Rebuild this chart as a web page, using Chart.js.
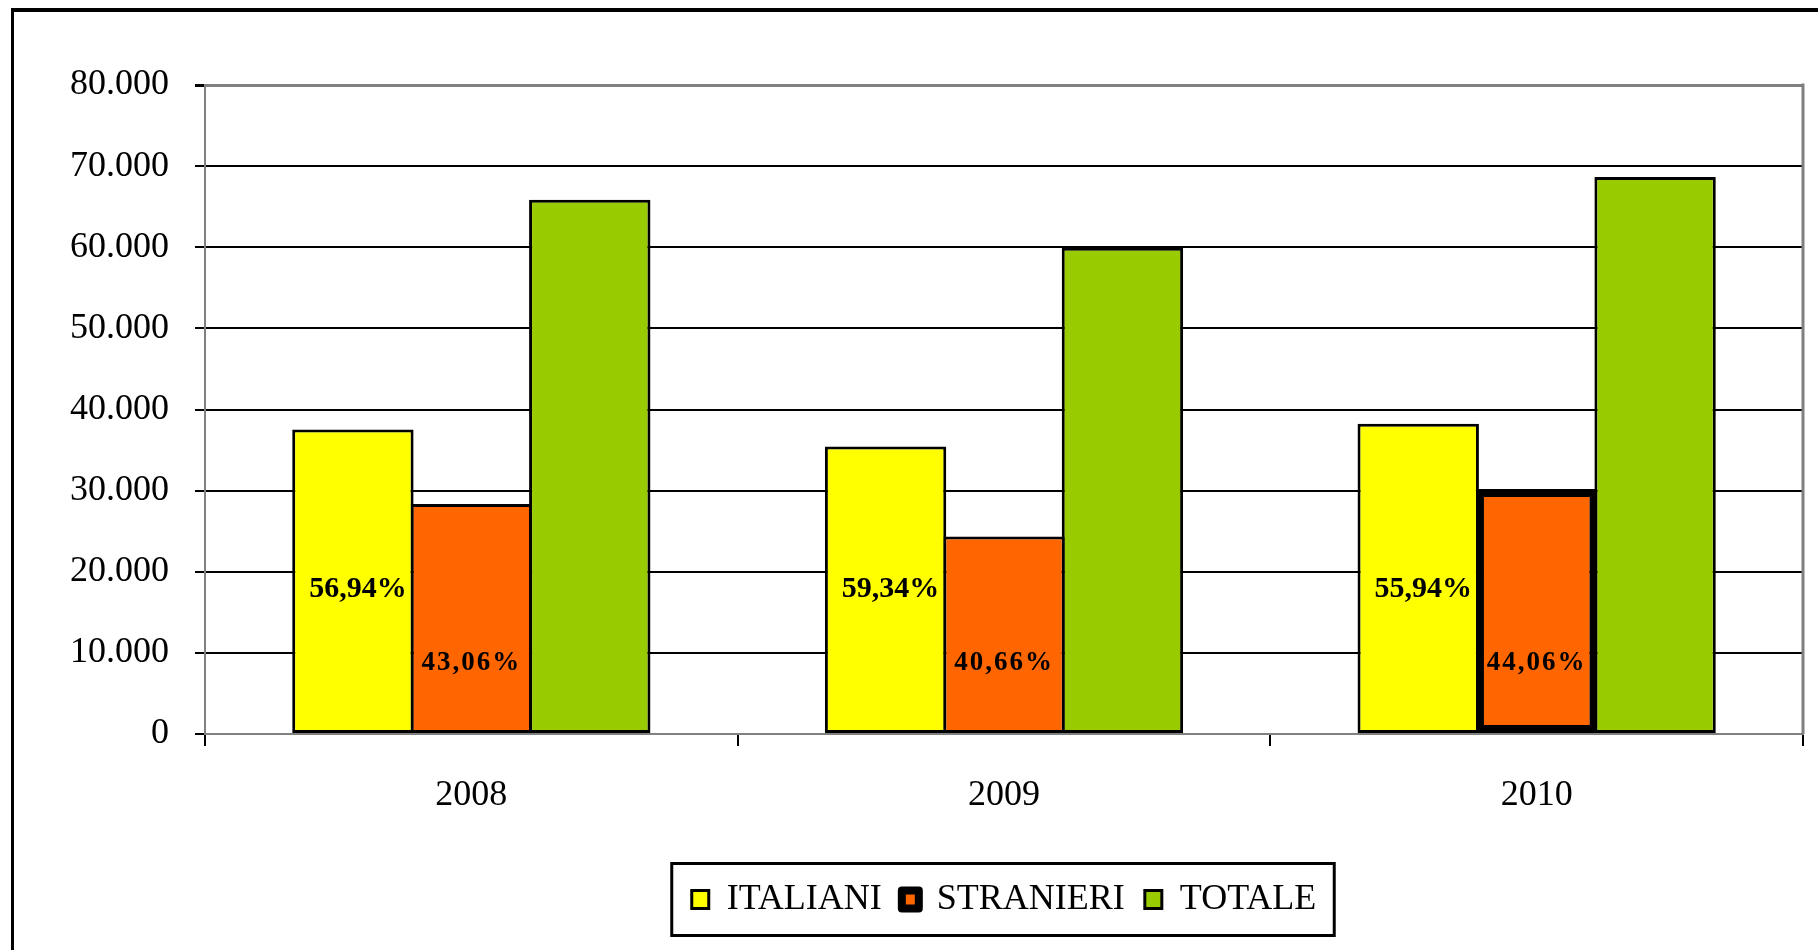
<!DOCTYPE html>
<html>
<head>
<meta charset="utf-8">
<title>Italiani / Stranieri / Totale</title>
<script src="https://cdn.jsdelivr.net/npm/chart.js@4.4.1/dist/chart.umd.min.js"></script>
<style>
    html, body { margin: 0; padding: 0; background: #fff; overflow: hidden; }
    #wrap { position: relative; width: 1818px; height: 950px; }
    #frame {
        position: absolute; left: 11px; top: 8px; right: 0; bottom: 0;
        border-left: 3px solid #000; border-top: 4px solid #000;
        pointer-events: none;
    }
    #chart { position: absolute; left: 0; top: 0; }
</style>
</head>
<body>
<div id="wrap">
    <canvas id="chart" width="1818" height="950"></canvas>
    <div id="frame"></div>
</div>
<script>
// Data
const YEARS = ['2008', '2009', '2010'];
const ITALIANI = [37550, 35450, 38250];
const STRANIERI = [28350, 24350, 30200];
const TOTALE = [65870, 59950, 68650];
const PCT_ITALIANI = ['56,94%', '59,34%', '55,94%'];
const PCT_STRANIERI = ['43,06%', '40,66%', '44,06%'];
const Y_MAX = 80000;
const Y_STEP = 10000;

const SERIF = "'Liberation Serif', 'Times New Roman', serif";

// 80000 -> "80.000"
function formatThousands(v) {
    return String(v).replace(/\B(?=(\d{3})+(?!\d))/g, '.');
}

// Percent labels inside yellow / orange bars
const pctLabels = {
    id: 'pctLabels',
    afterDatasetsDraw(chart) {
        const { ctx } = chart;
        const y = chart.scales.y;
        const sets = [
            { index: 0, texts: PCT_ITALIANI, level: 17800, font: 'bold 30px ' + SERIF, spacing: '0px', dx: 5 },
            { index: 1, texts: PCT_STRANIERI, level: 8800, font: 'bold 27px ' + SERIF, spacing: '2px', dx: 0 }
        ];
        ctx.save();
        ctx.fillStyle = '#000';
        ctx.textAlign = 'center';
        ctx.textBaseline = 'middle';
        sets.forEach(s => {
            const meta = chart.getDatasetMeta(s.index);
            ctx.font = s.font;
            ctx.letterSpacing = s.spacing;
            meta.data.forEach((bar, i) => {
                ctx.fillText(s.texts[i], bar.x + s.dx, y.getPixelForValue(s.level));
            });
        });
        ctx.restore();
    }
};

// Plot right border + box around the legend
const chartFrame = {
    id: 'chartFrame',
    afterDraw(chart) {
        const { ctx, chartArea } = chart;
        ctx.save();
        ctx.strokeStyle = '#808080';
        ctx.lineWidth = 3;
        ctx.beginPath();
        ctx.moveTo(chartArea.right, chartArea.top - 1.5);
        ctx.lineTo(chartArea.right, chartArea.bottom);
        ctx.stroke();

        const boxes = chart.legend.legendHitBoxes;
        if (boxes && boxes.length) {
            const first = boxes[0];
            const last = boxes[boxes.length - 1];
            const cy = first.top + first.height / 2;
            const left = first.left - 20;
            const right = last.left + last.width + 18;
            ctx.strokeStyle = '#000';
            ctx.lineWidth = 3;
            ctx.strokeRect(left, cy - 36, right - left, 72);
        }
        ctx.restore();
    }
};

const LEGEND_BORDER = [3, 8, 3];

const ctx = document.getElementById('chart').getContext('2d');
const chart = new Chart(ctx, {
    type: 'bar',
    data: {
        labels: YEARS,
        datasets: [
            {
                label: 'ITALIANI',
                data: ITALIANI,
                backgroundColor: '#FFFF00',
                borderColor: '#000',
                borderWidth: 3
            },
            {
                label: 'STRANIERI',
                data: STRANIERI,
                backgroundColor: '#FF6600',
                borderColor: '#000',
                borderWidth: [3, 3, 8]
            },
            {
                label: 'TOTALE',
                data: TOTALE,
                backgroundColor: '#99CC00',
                borderColor: '#000',
                borderWidth: 3
            }
        ]
    },
    options: {
        responsive: false,
        animation: false,
        categoryPercentage: 0.667,
        barPercentage: 1.025,
        layout: {
            padding: { top: 85, right: 15, bottom: 22.5, left: 0 }
        },
        datasets: {
            bar: { borderSkipped: false }
        },
        plugins: {
            tooltip: { enabled: false },
            legend: {
                position: 'bottom',
                fullSize: false,
                labels: {
                    color: '#000',
                    font: { family: SERIF, size: 36 },
                    boxWidth: 17,
                    boxHeight: 18,
                    padding: 20,
                    generateLabels: (c) => c.data.datasets.map((ds, i) => ({
                        text: ds.label,
                        fillStyle: ds.backgroundColor,
                        strokeStyle: '#000',
                        lineWidth: LEGEND_BORDER[i],
                        lineJoin: i === 1 ? 'round' : 'miter',
                        fontColor: '#000',
                        hidden: false,
                        datasetIndex: i
                    }))
                }
            }
        },
        scales: {
            x: {
                afterFit: (scale) => { scale.height = 127.5; },
                grid: {
                    display: true,
                    drawOnChartArea: false,
                    drawTicks: true,
                    tickLength: 12,
                    tickColor: '#000',
                    lineWidth: 2,
                    offset: true
                },
                border: { display: true, color: '#808080', width: 2 },
                ticks: {
                    color: '#000',
                    padding: 28,
                    font: { family: SERIF, size: 36 }
                }
            },
            y: {
                min: 0,
                max: Y_MAX,
                afterFit: (scale) => { scale.width = 205; },
                grid: {
                    color: (c) => (c.tick && c.tick.value === Y_MAX ? '#808080' : '#000'),
                    lineWidth: (c) => (c.tick && c.tick.value === Y_MAX ? 3 : 2),
                    tickColor: '#000',
                    tickLength: 10,
                    drawTicks: true
                },
                border: { display: true, color: '#808080', width: 2 },
                ticks: {
                    stepSize: Y_STEP,
                    color: '#000',
                    padding: 26,
                    font: { family: SERIF, size: 36 },
                    callback: (v) => formatThousands(v)
                }
            }
        }
    },
    plugins: [pctLabels, chartFrame]
});
</script>
</body>
</html>
